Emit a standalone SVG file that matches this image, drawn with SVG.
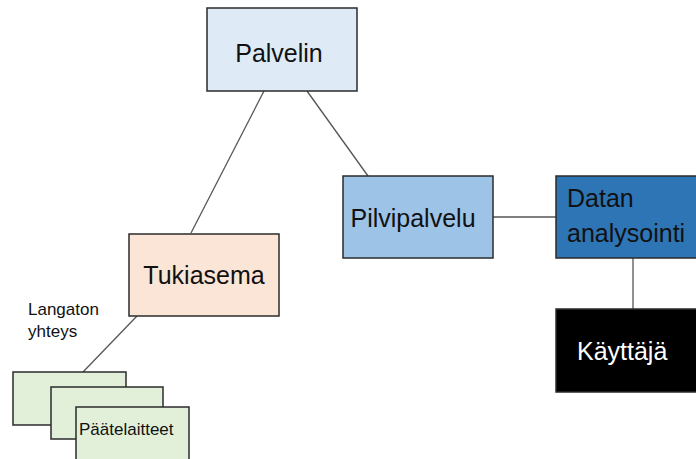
<svg xmlns="http://www.w3.org/2000/svg" width="696" height="459" viewBox="0 0 696 459">
  <style>
    .box { stroke: #2b2b2b; stroke-width: 1.5; }
    .lbl { font-family: "Liberation Sans", Arial, sans-serif; font-size: 25px; fill: #111; }
    .small { font-family: "Liberation Sans", Arial, sans-serif; font-size: 17px; fill: #111; }
    #connectors line { stroke: #555; stroke-width: 1.3; }
  </style>
  <rect width="696" height="459" fill="#ffffff"/>

  <g id="connectors">
    <line x1="264" y1="91" x2="191" y2="233"/>
    <line x1="307" y1="91" x2="368" y2="176"/>
    <line x1="493" y1="217" x2="556" y2="217"/>
    <line x1="633" y1="258" x2="633" y2="309"/>
    <line x1="137" y1="316" x2="83" y2="372"/>
  </g>

  <g id="palvelin">
    <rect class="box" x="207" y="8" width="150" height="83" fill="#deebf7"/>
    <text class="lbl" x="279" y="62" text-anchor="middle">Palvelin</text>
  </g>

  <g id="tukiasema">
    <rect class="box" x="129" y="234" width="150" height="82" fill="#fbe5d6"/>
    <text class="lbl" x="204" y="284" text-anchor="middle">Tukiasema</text>
  </g>

  <g id="pilvipalvelu">
    <rect class="box" x="343" y="176" width="150" height="82" fill="#9dc3e6"/>
    <text class="lbl" x="413" y="227" text-anchor="middle">Pilvipalvelu</text>
  </g>

  <g id="datan-analysointi">
    <rect class="box" x="556" y="176" width="150" height="82" fill="#2e75b6"/>
    <text class="lbl" x="567" y="207">Datan</text>
    <text class="lbl" x="567" y="242">analysointi</text>
  </g>

  <g id="kayttaja">
    <rect class="box" x="556" y="309" width="150" height="83" fill="#000000"/>
    <text class="lbl" x="577" y="360" style="fill:#ffffff">Käyttäjä</text>
  </g>

  <g id="langaton">
    <text class="small" x="28" y="315">Langaton</text>
    <text class="small" x="28" y="337">yhteys</text>
  </g>

  <g id="paatelaitteet">
    <rect class="box" x="13" y="372" width="113" height="53" fill="#e2f0d9"/>
    <rect class="box" x="51" y="387" width="112" height="52" fill="#e2f0d9"/>
    <rect class="box" x="76" y="407" width="113" height="60" fill="#e2f0d9"/>
    <text class="small" x="79" y="435">Päätelaitteet</text>
  </g>
</svg>
